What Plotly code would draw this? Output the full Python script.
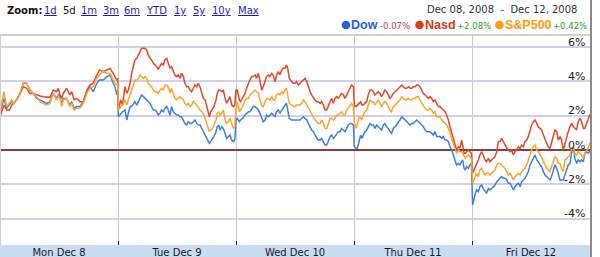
import plotly.graph_objects as go

# ---------------- data (percent change vs. prior close) ----------------
DAYS = ["Mon Dec 8", "Tue Dec 9", "Wed Dec 10", "Thu Dec 11", "Fri Dec 12"]
SESSION_MIN = 390  # 9:30 - 16:00

MON_MIN = [0, 13, 22, 31, 39, 44, 55, 66, 77, 88, 99, 110, 121, 132, 143, 154, 165, 176, 187, 193, 198,
           204, 209, 220, 231, 237, 245, 253, 264, 275, 287, 297, 308, 320, 329, 341, 353, 364, 374, 380, 386, 389]
MON_DOW = [2.14, 3.01, 2.43, 2.62, 2.82, 2.72, 2.92, 3.30, 3.89, 3.89, 3.50, 3.30, 3.01, 2.92, 2.82, 2.72, 2.82,
           3.30, 3.01, 3.21, 3.11, 2.62, 3.01, 3.01, 2.62, 2.82, 2.43, 2.53, 2.53, 2.82, 3.40, 3.69, 3.40, 3.89,
           4.10, 4.08, 4.28, 4.37, 3.89, 3.69, 3.21, 3.50]
MON_NASD = [1.94, 2.62, 2.33, 2.33, 2.62, 2.72, 2.92, 3.30, 3.69, 3.60, 3.30, 3.30, 3.21, 3.15, 3.11, 3.11, 3.07,
            3.50, 3.40, 3.60, 3.21, 3.01, 3.30, 3.60, 3.21, 3.40, 2.92, 3.01, 2.82, 2.82, 3.50, 3.79, 3.89, 4.37,
            4.67, 4.57, 4.67, 4.76, 4.47, 4.28, 4.08, 4.18]
MON_SP = [2.23, 3.40, 2.53, 2.72, 2.92, 2.72, 2.92, 3.30, 3.93, 3.89, 3.50, 3.30, 3.11, 2.82, 2.72, 2.62, 2.72,
          3.30, 2.92, 3.11, 3.01, 2.53, 2.92, 3.01, 2.53, 2.72, 2.33, 2.43, 2.43, 2.72, 3.30, 3.60, 3.69, 4.18,
          4.40, 4.57, 4.47, 4.47, 4.08, 3.89, 3.79, 3.89]

TUE_MIN = [1, 9, 15, 23, 29, 34, 40, 45, 51, 56, 62, 67, 73, 78, 84, 89, 95, 100, 106, 111, 117, 122, 128, 133,
           139, 144, 150, 155, 161, 166, 172, 177, 183, 188, 194, 199, 205, 210, 216, 221, 227, 232, 238, 243,
           249, 254, 260, 265, 271, 277, 282, 288, 293, 299, 302, 306, 313, 317, 324, 328, 333, 337, 343, 348,
           354, 359, 365, 370, 376, 381, 386]
TUE_DOW = [1.94, 2.14, 2.23, 2.33, 1.75, 2.14, 2.53, 2.53, 2.72, 2.82, 2.62, 2.82, 3.11, 3.21, 3.11, 3.01, 2.92,
           2.82, 2.72, 2.53, 2.33, 2.33, 2.23, 2.04, 2.14, 2.33, 2.23, 2.43, 2.53, 2.33, 2.04, 2.53, 2.23, 2.14,
           2.04, 2.04, 1.94, 1.94, 1.75, 1.55, 1.46, 1.65, 1.55, 1.55, 1.65, 1.75, 1.55, 1.46, 1.46,
           1.26, 1.07, 0.87, 0.68, 0.49, 0.39, 0.49, 0.68, 0.78, 1.07, 1.36, 1.46, 1.17, 1.36, 1.26, 0.97, 0.68,
           0.78, 0.87, 0.58, 0.49, 0.58]
TUE_NASD = [2.33, 2.92, 2.62, 3.69, 3.30, 3.50, 3.89, 4.47, 4.86, 5.25, 5.35, 5.54, 5.83, 5.93, 5.93, 5.93, 5.83,
            5.54, 5.35, 5.25, 5.05, 4.96, 4.86, 4.70, 4.86, 5.05, 4.96, 5.25, 5.35, 5.05, 4.76, 4.86, 4.57, 4.37,
            4.28, 4.37, 4.18, 4.47, 4.28, 3.89, 3.69, 3.69, 3.50, 3.40, 3.60, 3.79, 3.69, 3.89, 3.69,
            3.30, 3.01, 2.92, 2.53, 2.23, 1.94, 2.23, 2.43, 2.53, 2.92, 3.30, 3.50, 3.50, 3.40, 3.50, 3.01, 2.72,
            2.92, 3.11, 2.62, 2.53, 2.62]
TUE_SP = [2.33, 2.53, 2.62, 2.92, 2.62, 2.92, 3.30, 3.50, 3.79, 4.08, 4.08, 4.18, 4.37, 4.28, 4.18, 4.28, 4.18,
          3.89, 3.79, 3.69, 3.50, 3.40, 3.40, 3.30, 3.50, 3.60, 3.50, 3.79, 3.79, 3.69, 3.30, 3.60, 3.30, 3.01,
          2.92, 3.01, 3.11, 3.01, 2.92, 2.72, 2.62, 2.72, 2.53, 2.62, 2.82, 2.72, 2.62, 2.53, 2.33,
          2.23, 2.14, 1.85, 1.55, 1.26, 1.07, 1.17, 1.26, 1.46, 1.75, 2.14, 2.23, 2.04, 2.14, 2.33, 1.75, 1.55,
          1.65, 1.85, 1.46, 1.26, 1.36]

WED_MIN = [0, 4, 11, 15, 22, 30, 35, 41, 46, 52, 57, 63, 68, 74, 79, 85, 90, 96, 101, 107, 112, 118, 123, 129,
           134, 140, 145, 151, 156, 162, 167, 171, 176, 184, 189, 195, 200, 206, 212, 217, 223, 228, 234, 239,
           245, 250, 256, 261, 267, 272, 278, 283, 289, 294, 300, 305, 311, 316, 322, 327, 333, 338, 344, 349,
           355, 360, 366, 371, 377, 382, 388]
WED_DOW = [1.75, 1.85, 1.65, 1.75, 1.85, 2.04, 2.14, 2.23, 2.23, 2.43, 2.53, 2.53, 2.43, 2.33, 2.14, 1.85, 1.65,
           1.75, 2.04, 1.94, 2.04, 2.14, 2.04, 1.94, 2.23, 2.33, 2.14, 2.33, 2.43, 2.62, 2.72, 2.23, 1.85, 1.75,
           1.75, 1.75, 1.75, 1.75, 1.75,
           1.85, 1.94, 1.85, 1.75, 1.55, 1.36, 1.17, 1.07, 0.87, 0.68, 0.58, 0.58, 0.68, 0.49, 0.29, 0.29, 0.49,
           0.78, 0.87, 0.68, 0.78, 0.97, 1.07, 1.07, 1.26, 1.17, 1.07, 1.26, 1.46, 1.55, 1.55, 1.46]
WED_NASD = [3.50, 3.50, 2.92, 2.82, 3.01, 3.30, 3.60, 3.89, 4.08, 4.28, 4.28, 4.37, 4.18, 4.47, 3.98, 3.50, 3.69,
            3.98, 4.28, 4.37, 4.28, 4.47, 4.37, 3.98, 4.37, 4.57, 4.37, 4.67, 4.76, 4.76, 4.96, 4.76, 4.18, 3.98,
            3.89, 3.89, 3.98, 3.79, 3.89,
            3.98, 4.08, 4.18, 3.98, 3.69, 3.40, 3.21, 3.01, 2.92, 2.82, 2.82, 2.72, 2.82, 2.62, 2.33, 2.33, 2.62,
            2.82, 3.01, 2.72, 3.01, 3.11, 3.01, 3.21, 3.30, 3.21, 3.01, 3.21, 3.40, 3.69, 3.79, 3.69]
WED_SP = [2.43, 2.82, 2.23, 2.33, 2.53, 2.92, 3.01, 3.01, 3.21, 3.30, 3.40, 3.50, 3.40, 3.30, 2.92, 2.62, 2.53,
          2.82, 3.01, 3.01, 2.92, 3.11, 2.92, 2.92, 3.21, 3.30, 3.21, 3.40, 3.30, 3.50, 3.60, 3.21, 2.72, 2.62,
          2.53, 2.53, 2.62, 2.62, 2.62,
          2.72, 2.92, 2.82, 2.62, 2.43, 2.23, 2.04, 1.85, 1.75, 1.65, 1.55, 1.55, 1.75, 1.55, 1.26, 1.26, 1.55,
          1.85, 1.85, 1.75, 1.85, 2.04, 2.04, 2.14, 2.23, 2.04, 2.04, 2.33, 2.43, 2.62, 2.72, 2.53]

THU_MIN = [1, 7, 11, 18, 22, 26, 31, 36, 42, 47, 53, 58, 64, 69, 75, 80, 86, 91, 97, 102, 108, 113, 119, 124,
           130, 136, 141, 147, 152, 158, 163, 169, 174, 180, 185, 191, 196, 202, 207, 213, 218, 224, 229, 235,
           240, 246, 251, 257, 262, 268, 273, 279, 284, 290, 295, 301, 306, 312, 317, 323, 328, 334, 339, 345,
           350, 356, 359, 364, 368, 372, 378, 383, 388]
THU_DOW = [0.19, 0.10, 0.10, 0.58, 0.87, 0.68, 0.87, 1.07, 1.17, 1.36, 1.55, 1.46, 1.46, 1.26, 1.46, 1.36, 1.26,
           1.17, 1.46, 1.55, 1.36, 1.26, 1.07, 0.97, 1.26, 1.36, 1.46, 1.65, 1.75,
           1.94, 1.85, 1.75, 1.65, 1.55, 1.46, 1.55, 1.55, 1.65, 1.75, 1.65, 1.55, 1.46, 1.36, 1.17, 1.07, 1.07,
           1.07, 0.97, 0.87, 1.07, 0.78, 0.78, 0.78, 0.68, 0.78, 0.58, 0.58, 0.49, 0.19, 0.00, -0.29, -0.58,
           -0.87, -0.78, -0.87, -0.68, -0.58, -1.07, -1.17, -0.97, -1.07, -0.87, -0.78]
THU_NASD = [2.62, 2.53, 2.62, 2.72, 2.82, 2.62, 2.62, 2.72, 2.82, 3.21, 3.50, 3.50, 3.40, 3.21, 3.30, 3.40, 3.30,
            3.11, 3.30, 3.50, 3.40, 3.21, 3.01, 3.11, 3.30, 3.40, 3.50, 3.60, 3.69,
            3.79, 3.69, 3.60, 3.60, 3.69, 3.60, 3.60, 3.69, 3.69, 3.79, 3.79, 3.69, 3.50, 3.30, 3.21, 3.11, 3.01,
            3.11, 3.01, 2.82, 2.92, 2.72, 2.53, 2.53, 2.43, 2.33, 2.23, 2.04, 1.75, 1.36, 0.97, 0.58, 0.19, 0.00,
            0.19, 0.10, 0.58, 0.29, -0.19, -0.19, -0.10, 0.00, -0.10, -0.19]
THU_SP = [1.65, 1.26, 1.46, 1.94, 1.85, 1.75, 2.04, 2.23, 2.33, 2.62, 2.92, 2.82, 2.82, 2.62, 2.82, 2.92, 2.72,
          2.53, 2.72, 2.82, 2.72, 2.53, 2.33, 2.23, 2.53, 2.62, 2.72, 2.82, 2.92,
          3.11, 3.01, 2.92, 2.92, 3.01, 2.92, 2.92, 3.01, 3.01, 3.11, 3.11, 2.92, 2.72, 2.62, 2.43, 2.33, 2.33,
          2.43, 2.33, 2.14, 2.23, 1.94, 1.94, 1.94, 1.75, 1.65, 1.55, 1.46, 1.26, 0.97, 0.68, 0.39, 0.10, -0.19,
          0.00, -0.10, -0.10, -0.19, -0.29, -0.49, -0.39, -0.29, -0.39, -0.49]

FRI_MIN = [2, 7, 11, 15, 21, 26, 32, 37, 43, 48, 54, 59, 65, 71, 76, 82, 87, 93, 98, 104, 109, 115, 120, 126,
           131, 137, 142, 148, 153, 159, 164, 170, 175, 181, 186, 192, 197, 203, 208, 214, 219, 225, 230, 236,
           241, 247, 252, 258, 263, 269, 274, 280, 285, 291, 296, 302, 307, 313, 318, 324, 329, 335, 340, 346,
           351, 357, 362, 368, 373, 379, 384, 390]
FRI_DOW = [-3.21, -2.72, -2.53, -2.33, -2.43, -2.14, -2.04, -2.24, -2.43, -2.53, -2.24, -2.33, -2.24, -2.14,
           -2.04, -1.85, -1.75, -1.65,
           -1.55, -1.65, -1.65, -1.75, -1.94, -1.94, -2.14, -2.33, -2.14, -2.04, -1.94, -2.14, -1.85, -1.75,
           -1.65, -1.46, -1.26, -0.87, -0.68, -0.39, -0.29, -0.58, -0.68, -0.87, -0.97, -1.26, -1.46, -1.55,
           -1.65, -1.75, -1.55, -1.17, -0.87, -1.07, -1.46, -1.75, -1.75, -1.75, -1.46, -1.07, -0.87, -0.78,
           -0.19, 0.19, -0.49, -0.78, -0.58, -0.68, -0.58, -0.68, -0.19, -0.10, -0.19, -0.07]
FRI_NASD = [-1.36, -1.17, -0.97, -0.78, -0.58, -0.29, -0.10, -0.29, -0.58, -0.68, -0.49, -0.68, -0.58, -0.49,
            -0.39, -0.10, 0.49, 0.49,
            0.68, 0.49, 0.29, 0.10, 0.00, -0.10, 0.00, -0.29, -0.10, 0.00, 0.19, 0.10, 0.29, 0.19, 0.49, 0.58,
            0.78, 1.17, 1.46, 1.65, 1.75, 1.55, 1.36, 1.26, 1.17, 0.87, 0.68, 0.39, 0.19, 0.10, 0.39, 0.78, 1.17,
            1.07, 0.58, 0.78, 0.58, 0.00, 0.39, 0.87, 1.07, 1.36, 1.55, 1.36, 1.26, 1.17, 1.65, 1.85, 1.65, 1.26,
            1.26, 1.55, 1.75, 2.08]
FRI_SP = [-1.94, -1.75, -1.55, -1.36, -1.55, -1.17, -1.07, -1.26, -1.46, -1.36, -1.36, -1.46, -1.36, -1.26,
          -1.17, -0.87, -0.78, -0.78,
          -0.87, -0.97, -1.07, -1.26, -1.46, -1.36, -1.55, -1.75, -1.55, -1.46, -1.36, -1.46, -1.26, -1.17,
          -1.07, -0.87, -0.58, -0.29, 0.00, 0.19, 0.29, 0.00, -0.10, -0.29, -0.39, -0.68, -0.87, -1.07, -1.17,
          -1.26, -0.97, -0.58, -0.39, -0.49, -0.78, -0.78, -1.07, -1.26, -0.58, -0.49, -0.39, -0.29, 0.10, 0.10,
          -0.19, -0.29, -0.10, -0.19, -0.29, -0.49, -0.19, 0.00, 0.10, 0.42]

SERIES = ["Dow", "Nasd", "S&P500"]
CHANGES = ["-0.07%", "+2.08%", "+0.42%"]
Y_TICKS = [-4, -2, 0, 2, 4, 6]
Y_TICK_TEXT = ["-4%", "-2%", "0%", "2%", "4%", "6%"]
ZOOM_LINKS = ["1d", "5d", "1m", "3m", "6m", "YTD", "1y", "5y", "10y", "Max"]
DATE_RANGE = "Dec 08, 2008\u00a0\u00a0-\u00a0\u00a0Dec 12, 2008"

# ---------------- styling ----------------
W, H = 600, 257
PL, PR, PT, PB = 0, 590, 35, 245
LINE_COLORS = ["#3a80e4", "#e2482a", "#ffa42a"]
DOT_COLORS = ["#1c62dc", "#dd3b14", "#ff9a0a"]
NAME_COLORS = ["#1c62dc", "#d83a14", "#ff9a0a"]
CHANGE_COLORS = ["#c8305c", "#2e9a2e", "#2e9a2e"]
FONT = "DejaVu Sans"
GRID_COLOR = "#d0d0ee"


def px(x):
    return x / W


def py(y):
    return 1 - y / H


def join(mins_by_day, vals_by_day):
    xs, ys = [], []
    for d, (mins, vals) in enumerate(zip(mins_by_day, vals_by_day)):
        xs += [d + m / SESSION_MIN for m in mins]
        ys += list(vals)
    return xs, ys


MINS = [MON_MIN, TUE_MIN, WED_MIN, THU_MIN, FRI_MIN]
VALUES = {
    "Dow": [MON_DOW, TUE_DOW, WED_DOW, THU_DOW, FRI_DOW],
    "Nasd": [MON_NASD, TUE_NASD, WED_NASD, THU_NASD, FRI_NASD],
    "S&P500": [MON_SP, TUE_SP, WED_SP, THU_SP, FRI_SP],
}

fig = go.Figure()
for name, color in zip(SERIES, LINE_COLORS):
    xs, ys = join(MINS, VALUES[name])
    fig.add_trace(go.Scatter(x=xs, y=ys, mode="lines", name=name,
                             line=dict(color=color, width=1.5), hoverinfo="skip"))

# y range chosen so that the plot area spans pixel rows PT..PB
y_per_px = 2 / 34.3
y_zero_px = 150
y_top = (y_zero_px - PT) * y_per_px
y_bot = -(PB - y_zero_px) * y_per_px

fig.update_layout(
    width=W, height=H, margin=dict(l=0, r=0, t=0, b=0),
    paper_bgcolor="white", plot_bgcolor="white", showlegend=False,
    xaxis=dict(domain=[px(PL), px(PR)], range=[0, 5], showgrid=False, zeroline=False,
               tickmode="array", tickvals=[i + 0.5 for i in range(5)], ticktext=DAYS,
               ticks="", tickfont=dict(family=FONT, size=10, color="#1a1a1a"),
               showline=False, fixedrange=True,
               minor=dict(tickmode="array", tickvals=[0, 1, 2, 3, 4], ticks="inside", ticklen=4,
                          tickcolor="#222", tickwidth=1, showgrid=True, gridcolor="#c9c9c9", gridwidth=1)),
    yaxis=dict(domain=[py(PB), py(PT)], range=[y_bot, y_top], side="right",
               tickmode="array", tickvals=Y_TICKS, showticklabels=False, ticks="",
               showgrid=True, gridcolor=GRID_COLOR, gridwidth=2,
               zeroline=True, zerolinecolor="#8e3c3c", zerolinewidth=1.5,
               showline=False, fixedrange=True),
)

shapes = [
    # axis band
    dict(type="rect", xref="paper", yref="paper", x0=px(0), x1=px(PR), y0=0, y1=py(PB),
         fillcolor="#c8dcf4", line=dict(width=0), layer="below"),
    # top frame line
    dict(type="line", xref="paper", yref="paper", x0=px(0), x1=px(PR), y0=py(PT), y1=py(PT),
         line=dict(color="#cfcfcf", width=2)),
    # left frame line
    dict(type="line", xref="paper", yref="paper", x0=px(0.5), x1=px(0.5), y0=py(PB), y1=py(PT),
         line=dict(color="#cbd3cb", width=1)),
    # right dark border
    dict(type="line", xref="paper", yref="paper", x0=px(591), x1=px(591), y0=0, y1=1,
         line=dict(color="#8a8a8a", width=2)),
]

annotations = []
# y tick labels: right-aligned inside the plot, sitting just above their grid line
for v, t in zip(Y_TICKS, Y_TICK_TEXT):
    annotations.append(dict(text=t, x=px(587), xref="paper", y=v, yref="y", yshift=5,
                            xanchor="right", yanchor="middle", showarrow=False,
                            font=dict(family=FONT, size=11, color="#222")))
# Zoom row
annotations.append(dict(text="<b>Zoom:</b>", x=px(5), y=py(11), xref="paper", yref="paper",
                        xanchor="left", yanchor="middle", showarrow=False,
                        font=dict(family=FONT, size=10, color="#111")))
link_x = [42, 61, 79, 101, 122, 144, 172, 191, 210, 236]
for lx, lab in zip(link_x, ZOOM_LINKS):
    txt = lab if lab == "5d" else "<u>" + lab + "</u>"
    col = "#111" if lab == "5d" else "#1a1acc"
    annotations.append(dict(text=txt, x=px(lx), y=py(11), xref="paper", yref="paper",
                            xanchor="left", yanchor="middle", showarrow=False,
                            font=dict(family=FONT, size=10, color=col)))
# date range
annotations.append(dict(text=DATE_RANGE, x=px(579), y=py(10), xref="paper", yref="paper",
                        xanchor="right", yanchor="middle", showarrow=False,
                        font=dict(family=FONT, size=10, color="#333")))
# legend row
name_x = [350, 424, 504]
chg_x = [379, 456, 552]
dot_cx = [346, 419.5, 499.5]
for i in range(3):
    shapes.append(dict(type="circle", xref="paper", yref="paper",
                       x0=px(dot_cx[i] - 4.3), x1=px(dot_cx[i] + 4.3),
                       y0=py(25 + 4.3), y1=py(25 - 4.3),
                       fillcolor=DOT_COLORS[i], line=dict(width=0)))
    annotations.append(dict(text="<b>" + SERIES[i].replace("&", "&amp;") + "</b>", x=px(name_x[i] - 1),
                            y=py(25.5), xref="paper", yref="paper", xanchor="left", yanchor="middle",
                            showarrow=False,
                            font=dict(family="Liberation Sans", size=12.5, color=NAME_COLORS[i])))
    annotations.append(dict(text=CHANGES[i], x=px(chg_x[i] - 1), y=py(26), xref="paper", yref="paper",
                            xanchor="left", yanchor="middle", showarrow=False,
                            font=dict(family=FONT, size=8.5, color=CHANGE_COLORS[i])))

fig.update_layout(shapes=shapes, annotations=annotations)
fig.write_html("out.html", config={"displayModeBar": False})
